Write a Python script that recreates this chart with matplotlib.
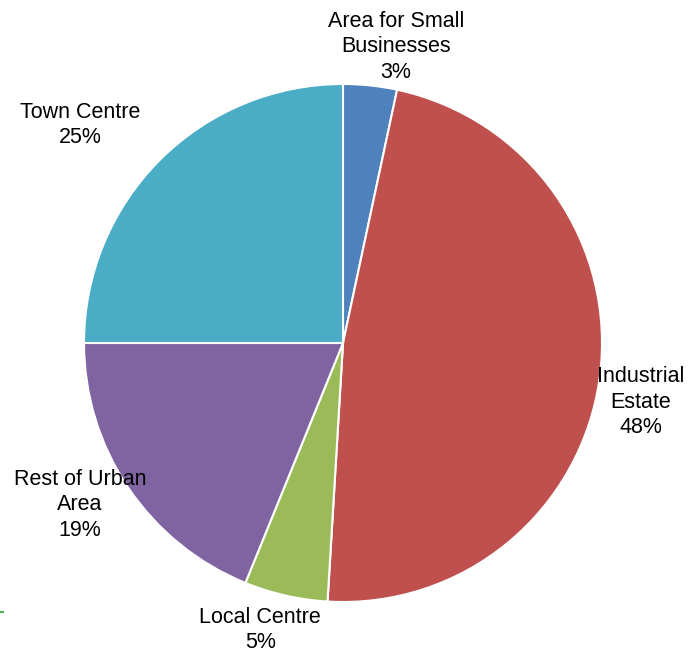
import matplotlib
matplotlib.use("Agg")
import matplotlib.pyplot as plt

plt.rcParams["font.family"] = ["Liberation Sans", "DejaVu Sans"]

categories = ["Area for Small\nBusinesses", "Industrial\nEstate", "Local Centre",
              "Rest of Urban\nArea", "Town Centre"]
shares = [3.35, 47.6, 5.2, 18.85, 25.0]
colors = ["#4F81BD", "#C0504D", "#9BBB59", "#8064A2", "#4BACC6"]
# label anchor points in pie units (radius = 1)
label_pos = [(0.205, 1.143), (1.151, -0.228), (-0.32, -1.108),
             (-1.015, -0.625), (-1.015, 0.842)]

W, H = 700, 652
cx, cy, r = 343, 343, 259
fig = plt.figure(figsize=(W / 100, H / 100), dpi=100)
ax = fig.add_axes([(cx - r) / W, (H - cy - r) / H, 2 * r / W, 2 * r / H])

ax.pie(shares, colors=colors, startangle=90, counterclock=False, radius=1,
       wedgeprops=dict(edgecolor="white", linewidth=1.5))
ax.set_xlim(-1, 1)
ax.set_ylim(-1, 1)
ax.set_aspect("equal")
ax.axis("off")

for name, val, (x, y) in zip(categories, shares, label_pos):
    ax.text(x, y, f"{name}\n{val:.0f}%", ha="center", va="center",
            fontsize=15.5, linespacing=1.3, clip_on=False)

# stray tick at the left edge
fig.add_artist(plt.Line2D([0, 3 / W], [1 - 612 / H] * 2, color="#4CB84C", lw=1.5))

fig.savefig("out.png", dpi=100)
